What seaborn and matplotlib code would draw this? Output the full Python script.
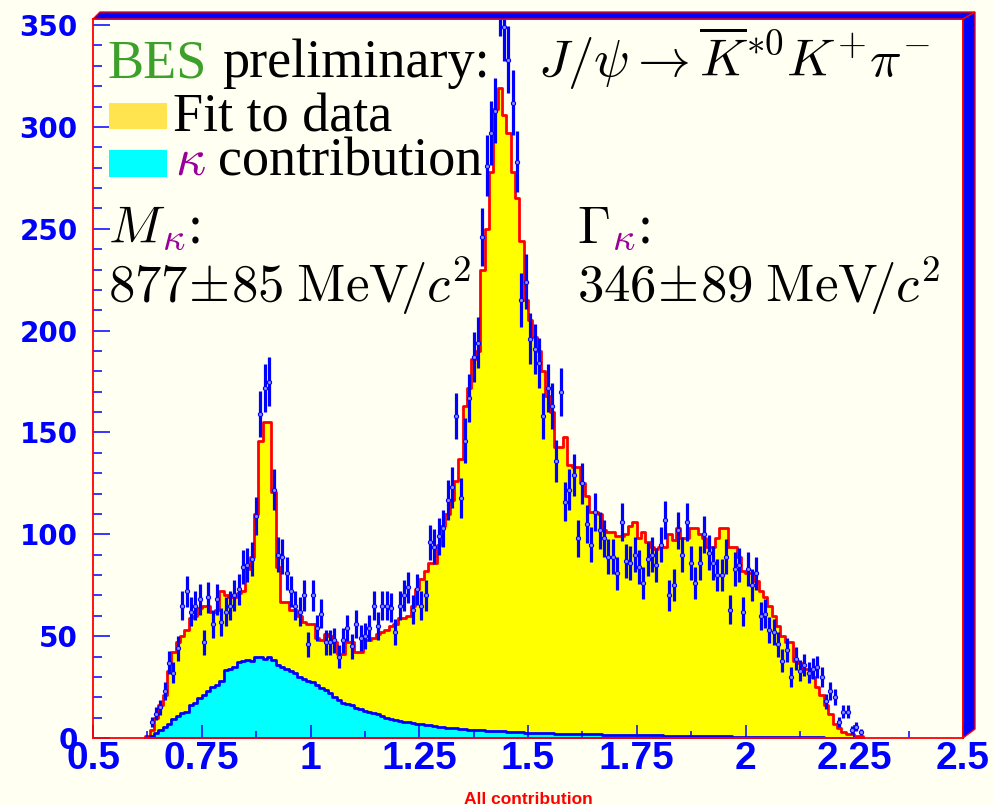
import numpy as np
import pandas as pd
import matplotlib
matplotlib.use("Agg")
import matplotlib.pyplot as plt
from matplotlib.patches import Polygon, Rectangle
import seaborn as sns

# ---------------- data (bins of width 0.01 starting at 0.62) ----------------
bin_low = 0.62
bin_width = 0.01

fit_to_data = [
    1, 4, 10, 16, 21, 33, 42, 47, 50, 53,
    59, 60, 64, 65, 65, 62, 63, 72, 70, 69,
    69, 71, 72, 83, 89, 110, 146, 155, 155, 121,
    84, 67, 67, 63, 63, 60, 57, 56, 56, 49,
    48, 51, 50, 47, 41, 41, 47, 47, 42, 42,
    48, 48, 49, 51, 52, 53, 55, 56, 59, 59,
    60, 65, 73, 78, 82, 86, 86, 95, 104, 110,
    117, 126, 137, 163, 172, 186, 190, 230, 250, 278,
    309, 319, 306, 297, 278, 265, 244, 215, 205, 197,
    190, 180, 168, 160, 143, 143, 148, 134, 133, 133,
    125, 119, 111, 111, 110, 102, 101, 101, 99, 99,
    100, 104, 106, 98, 101, 96, 94, 93, 94, 94,
    100, 97, 103, 98, 98, 103, 103, 100, 98, 94,
    94, 98, 103, 103, 94, 94, 89, 82, 81, 81,
    77, 72, 69, 65, 60, 55, 50, 47, 47, 38,
    37, 34, 34, 30, 25, 21, 16, 12, 7, 5,
    3, 2, 2, 1, 1,
]

kappa_contribution = [
    0, 1, 2.5, 4, 5.5, 7, 9.5, 11, 12.5, 13,
    16, 17, 19.5, 21, 23, 25, 26, 28, 33.5, 34,
    35, 37.5, 38, 38.5, 38, 40, 40, 39, 40, 38.5,
    36, 35, 34, 33, 32, 30, 29, 28, 27.5, 26,
    24.5, 23.5, 22, 20, 18.5, 17, 16.5, 16, 14.5, 14,
    13.5, 13, 12.5, 12, 11, 10, 9.5, 9.0, 8.5, 8.0,
    7.7, 7.4, 7.1, 6.8, 6.5, 6.2, 5.9, 5.6, 5.4, 5.1,
    4.9, 4.7, 4.5, 4.3, 4.1, 4.0, 3.8, 3.7, 3.6, 3.5,
    3.4, 3.3, 3.2, 3.1, 3.0, 2.9, 2.8, 2.7, 2.6, 2.5,
    2.4, 2.4, 2.3, 2.3, 2.2, 2.2, 2.1, 2.1, 2.0, 2.0,
    1.9, 1.9, 1.8, 1.8, 1.8, 1.7, 1.7, 1.6, 1.6, 1.6,
    1.5, 1.5, 1.5, 1.4, 1.4, 1.4, 1.3, 1.3, 1.3, 1.2,
    1.2, 1.2, 1.1, 1.1, 1.1, 1.0, 1.0, 1.0, 0.9, 0.9,
    0.9, 0.9, 0.8, 0.8, 0.8, 0.7, 0.7, 0.7, 0.7, 0.6,
    0.6, 0.6, 0.6, 0.5, 0.5, 0.5, 0.5, 0.4, 0.4, 0.4,
    0.4, 0.3, 0.3, 0.3, 0.3, 0.3, 0.2, 0.2, 0.2, 0.2,
    0.2, 0.1, 0.1, 0.1, 0.1,
]

data_counts = [
    0, 8, 12, 15, 23, 37, 32, 44, 65, 72,
    62, 65, 68, 47, 69, 56, 68, 57, 62, 65,
    70, 73, 84, 85, 88, 109, 159, 172, 175, 122,
    90, 89, 81, 72, 65, 62, 70, 46, 70, 54,
    61, 47, 47, 48, 40, 48, 54, 45, 56, 49,
    50, 54, 65, 55, 65, 65, 64, 52, 65, 70,
    74, 63, 73, 65, 70, 96, 94, 99, 103, 117,
    123, 158, 118, 146, 167, 187, 194, 246, 281, 297,
    308, 362, 349, 333, 312, 283, 215, 224, 196, 191,
    184, 158, 172, 163, 136, 170, 116, 122, 129, 98,
    125, 105, 95, 111, 102, 98, 89, 89, 81, 106,
    87, 86, 90, 84, 76, 88, 90, 85, 95, 107,
    70, 75, 102, 90, 106, 86, 76, 86, 100, 91,
    86, 80, 80, 89, 63, 83, 85, 62, 83, 75,
    81, 60, 61, 53, 52, 46, 38, 43, 30, 39,
    33, 36, 32, 34, 35, 30, 18, 23, 20, 8,
    13, 13, 4, 5.5, 3,
]

x_ticks = [0.5, 0.75, 1.0, 1.25, 1.5, 1.75, 2.0, 2.25, 2.5]
x_tick_labels = ["0.5", "0.75", "1", "1.25", "1.5", "1.75", "2", "2.25", "2.5"]
y_ticks = [0, 50, 100, 150, 200, 250, 300, 350]
y_tick_labels = ["0", "50", "100", "150", "200", "250", "300", "350"]

# ---------------- figure ----------------
plt.rcParams["mathtext.fontset"] = "cm"
BG = "#FFFFF2"
W, H = 993, 806
fig = plt.figure(figsize=(W / 100, H / 100), dpi=100, facecolor=BG)


def fx(px):
    return px / W


def fy(py):
    return 1 - py / H


ax = fig.add_axes([fx(93), fy(738), (963 - 93) / W, (738 - 19) / H])
ax.set_facecolor(BG)

n = len(fit_to_data)
edges = [float(e) for e in (bin_low + bin_width * np.arange(n + 1))]
centers = np.array(edges[:-1]) + bin_width / 2
df = pd.DataFrame({"mass": centers, "fit": fit_to_data,
                   "kappa": kappa_contribution, "data": data_counts})

sns.histplot(data=df, x="mass", weights="fit", bins=edges, element="step",
             fill=True, facecolor="#FFFF00", edgecolor="#FF0000",
             linewidth=2.0, alpha=1, ax=ax)
sns.histplot(data=df, x="mass", weights="kappa", bins=edges, element="step",
             fill=True, facecolor="#00FFFF", edgecolor="#0000FF",
             linewidth=2.0, alpha=1, ax=ax)

dsel = df[df["data"] > 0]
err = np.sqrt(dsel["data"].to_numpy()) * 0.9
ax.errorbar(dsel["mass"], dsel["data"], yerr=err, fmt="o", ms=3.0,
            color="#0000FF", mfc="#8C8CFF", mec="#0000FF", mew=0.8,
            elinewidth=2.3, capsize=0, zorder=5)

ax.set_xlim(0.5, 2.5)
ax.set_ylim(0, 353)
ax.set_xlabel("")
ax.set_ylabel("")
ax.set_xticks(x_ticks)
ax.set_xticklabels(x_tick_labels)
ax.set_xticks(np.arange(0.625, 2.5, 0.25), minor=True)
ax.set_yticks(y_ticks)
ax.set_yticklabels(y_tick_labels)
ax.set_yticks(np.arange(0, 351, 10), minor=True)

ax.tick_params(axis="both", which="both", direction="in", colors="#0000FF",
               top=False, right=False)
ax.tick_params(axis="y", which="major", length=12, width=1.1, pad=11)
ax.tick_params(axis="y", which="minor", length=6.5, width=1.1)
ax.tick_params(axis="x", which="major", length=9.5, width=1.1, pad=2)
ax.tick_params(axis="x", which="minor", length=5, width=1.1)
for lab in ax.get_yticklabels():
    lab.set_fontfamily("DejaVu Sans")
    lab.set_fontweight("bold")
    lab.set_fontsize(20)
for lab in ax.get_xticklabels():
    lab.set_fontfamily("Liberation Sans")
    lab.set_fontweight("bold")
    lab.set_fontsize(28)

for sp in ax.spines.values():
    sp.set_color("#FF0000")
    sp.set_linewidth(1.3)
    sp.set_zorder(6)

# 3D-like frame border (top and right)
top_band = Polygon([(fx(93), fy(19)), (fx(100), fy(12)), (fx(975), fy(12)), (fx(963), fy(19))],
                   closed=True, transform=fig.transFigure, facecolor="#0000FF",
                   edgecolor="#FF0000", lw=1.0)
right_band = Polygon([(fx(963), fy(19)), (fx(975), fy(12)), (fx(975), fy(729)), (fx(963), fy(738))],
                     closed=True, transform=fig.transFigure, facecolor="#0000FF",
                     edgecolor="#FF0000", lw=1.0)
fig.patches.extend([top_band, right_band])

# ---------------- text ----------------
FS = 39
SERIF = "Liberation Serif"
fig.text(fx(107), fy(77), "BES", fontfamily=SERIF, fontsize=FS, color="#3DA02A", va="baseline")
fig.text(fx(222), fy(77), "preliminary:", fontfamily=SERIF, fontsize=FS, color="black", va="baseline")
fig.text(fx(538), fy(77), r"$J/\psi\rightarrow\overline{K}^{*0}K^{+}\pi^{-}$",
         fontsize=38, color="black", va="baseline")

fig.patches.append(Rectangle((fx(109), fy(129)), (167 - 109) / W, (129 - 103) / H,
                             transform=fig.transFigure, facecolor="#FFE34F", edgecolor="none"))
fig.patches.append(Rectangle((fx(109), fy(177)), (167 - 109) / W, (177 - 150) / H,
                             transform=fig.transFigure, facecolor="#00FFFF", edgecolor="none"))
fig.text(fx(173), fy(132), "Fit to data", fontfamily=SERIF, fontsize=FS, color="black", va="baseline")
fig.text(fx(175), fy(175), r"$\kappa$", fontsize=38, color="#990099", va="baseline")
fig.text(fx(218), fy(175), "contribution", fontfamily=SERIF, fontsize=FS, color="black", va="baseline")

fig.text(fx(108), fy(243), r"$M$", fontsize=38, color="black", va="baseline")
fig.text(fx(162), fy(250), r"$\kappa$", fontsize=28, color="#990099", va="baseline")
fig.text(fx(188), fy(243), ":", fontfamily=SERIF, fontsize=FS, color="black", va="baseline")
fig.text(fx(108), fy(302), r"$877\!\pm\!85\;\mathrm{MeV}\!/c^{2}$", fontsize=38, color="black", va="baseline")

fig.text(fx(577), fy(243), r"$\Gamma$", fontsize=38, color="black", va="baseline")
fig.text(fx(612), fy(250), r"$\kappa$", fontsize=28, color="#990099", va="baseline")
fig.text(fx(638), fy(243), ":", fontfamily=SERIF, fontsize=FS, color="black", va="baseline")
fig.text(fx(577), fy(302), r"$346\!\pm\!89\;\mathrm{MeV}\!/c^{2}$", fontsize=38, color="black", va="baseline")

fig.text(fx(528), fy(799), "All contribution", fontfamily="Liberation Sans", fontweight="bold",
         fontsize=12.5, color="#FF0000", ha="center", va="center")

fig.savefig("out.png", dpi=100, facecolor=BG)
